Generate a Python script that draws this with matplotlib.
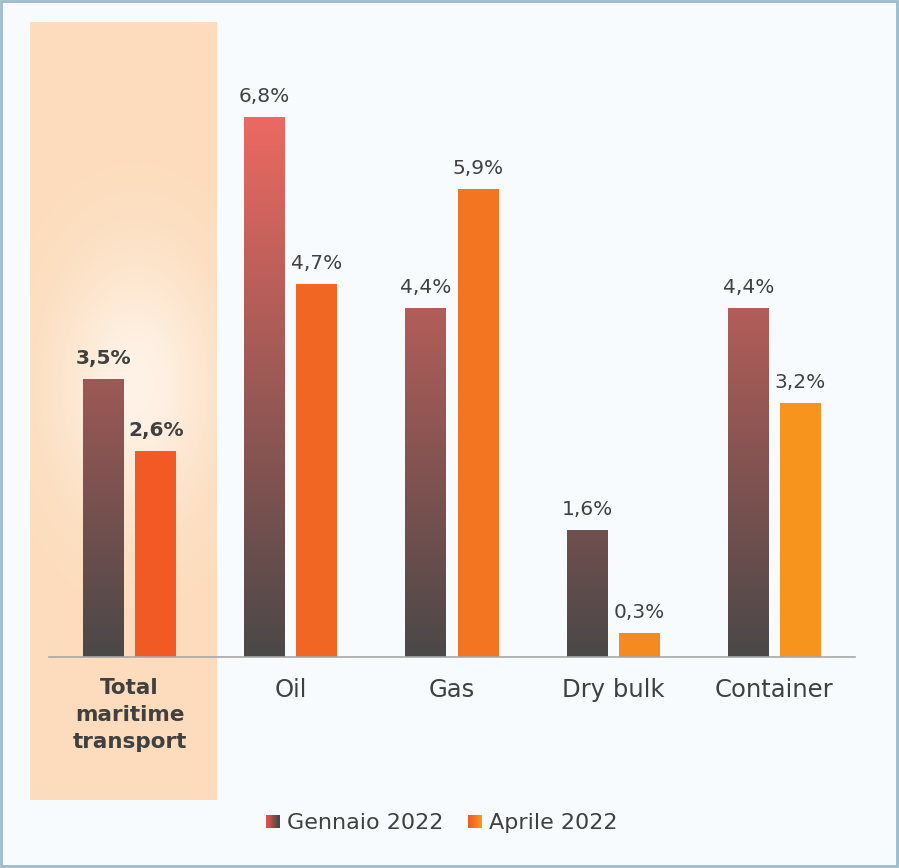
import numpy as np
import matplotlib.pyplot as plt
from matplotlib.patches import Rectangle
from matplotlib.colors import LinearSegmentedColormap
from matplotlib.legend_handler import HandlerBase

categories = ["Total\nmaritime\ntransport", "Oil", "Gas", "Dry bulk", "Container"]
gennaio = [3.5, 6.8, 4.4, 1.6, 4.4]
aprile = [2.6, 4.7, 5.9, 0.3, 3.2]
aprile_colors = ["#f15a24", "#f26624", "#f37421", "#f58a20", "#f7941d"]
series_names = ["Gennaio 2022", "Aprile 2022"]

TEXT = "#404040"
plt.rcParams["font.family"] = ["DejaVu Sans"]

W, H = 899, 868
fig = plt.figure(figsize=(W / 100, H / 100), dpi=100)
fig.patch.set_facecolor("#f8fbfd")

# background decoration in pixel coords
bg = fig.add_axes([0, 0, 1, 1], zorder=0)
col = Rectangle((30, 22), 187, 778, facecolor="#fcdcbc", edgecolor="none")
bg.add_patch(col)
yy, xx = np.mgrid[22:800, 30:217]
r2 = ((xx - 135) / 140.0) ** 2 + ((yy - 385) / 230.0) ** 2
glow = 0.8 * np.exp(-r2 / 0.3)
c_in = np.array([1.0, 0.975, 0.95])
c_out = np.array([252, 220, 188]) / 255
img = c_out[None, None, :] * (1 - glow[..., None]) + c_in[None, None, :] * glow[..., None]
im = bg.imshow(img, extent=(30, 217, 800, 22), aspect="auto", interpolation="bilinear", zorder=2)
im.set_clip_path(col)
bg.add_patch(Rectangle((1, 1), W - 3, H - 3, facecolor="none", edgecolor="#9dbccc", lw=2, zorder=3))
bg.set_xlim(0, W)
bg.set_ylim(H, 0)
bg.axis("off")

ax = fig.add_axes([49 / W, (H - 657) / H, 806 / W, 635 / H], zorder=1)
ax.patch.set_alpha(0)
x = np.arange(len(categories))
bw = 0.254
off = 0.162

gcmap = LinearSegmentedColormap.from_list("g", ["#4a4848", "#ec6962"])
grad = np.linspace(0, 1, 256).reshape(-1, 1)
ymax_grad = max(gennaio)

bars_g = ax.bar(x - off, gennaio, bw, color="none", edgecolor="none")
for b in bars_g:
    gi = ax.imshow(grad, extent=(b.get_x(), b.get_x() + bw, 0, ymax_grad),
                   origin="lower", aspect="auto", cmap=gcmap, zorder=2)
    gi.set_clip_path(b)
bars_a = ax.bar(x + off, aprile, bw, color=aprile_colors, edgecolor="none", zorder=2)

for i, (g, a) in enumerate(zip(gennaio, aprile)):
    fw = "bold" if i == 0 else "normal"
    ax.text(x[i] - off, g + 0.14, f"{g:.1f}%".replace(".", ","), ha="center", va="bottom",
            fontsize=14.5, color=TEXT, fontweight=fw)
    ax.text(x[i] + off, a + 0.14, f"{a:.1f}%".replace(".", ","), ha="center", va="bottom",
            fontsize=14.5, color=TEXT, fontweight=fw)

ax.set_xlim(-0.5, len(categories) - 0.5)
ax.set_ylim(0, 8)
ax.set_xticks(x)
ax.set_xticklabels(categories, fontsize=17.5, color=TEXT, linespacing=1.2)
lab0 = ax.get_xticklabels()[0]
lab0.set_fontweight("bold")
lab0.set_fontsize(15.5)
lab0.set_linespacing(1.45)
ax.tick_params(axis="x", length=0, pad=15)
ax.set_yticks([])
for s in ["top", "left", "right"]:
    ax.spines[s].set_visible(False)
ax.spines["bottom"].set_color("#a8a8a8")
ax.spines["bottom"].set_linewidth(1.2)


class GradHandler(HandlerBase):
    def __init__(self, c1, c2):
        super().__init__()
        self.c1, self.c2 = c1, c2

    def create_artists(self, legend, orig_handle, xdescent, ydescent, width, height, fontsize, trans):
        cm = LinearSegmentedColormap.from_list("h", [self.c1, self.c2])
        n = 12
        s = 9.5
        x0 = width - s
        y0 = (height - s) / 2
        arts = []
        for k in range(n):
            arts.append(Rectangle((x0 + k * s / n - xdescent, y0 - ydescent), s / n + 0.05, s,
                                  facecolor=cm(k / (n - 1)), edgecolor="none", transform=trans))
        return arts


h1 = Rectangle((0, 0), 1, 1)
h2 = Rectangle((0, 0), 1, 1)
fig.legend([h1, h2], series_names, loc="center", bbox_to_anchor=(442 / W, (H - 823) / H),
           ncol=2, frameon=False, fontsize=16, labelcolor=TEXT, handlelength=0.6,
           handletextpad=0.35, columnspacing=1.1,
           handler_map={h1: GradHandler("#e0524e", "#4a4848"), h2: GradHandler("#f15a24", "#f7941d")})

fig.savefig("out.png", dpi=100, facecolor=fig.get_facecolor())
